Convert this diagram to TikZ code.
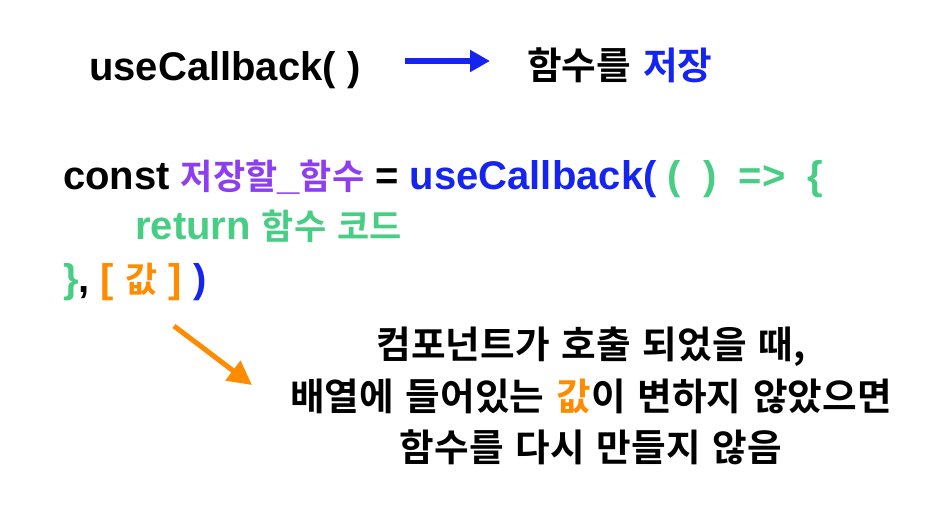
\documentclass[tikz,border=0pt]{standalone}
\usepackage{fontspec}
\setmainfont{Liberation Sans}
\newfontfamily\hangul{Noto Sans CJK KR}[Scale=0.875,WordSpace=1.4,BoldFont={Noto Sans CJK KR Bold}]
\usetikzlibrary{arrows.meta,positioning}
\definecolor{hookblue}{RGB}{22,36,240}
\definecolor{namepurple}{RGB}{140,62,240}
\definecolor{bodygreen}{RGB}{72,206,132}
\definecolor{deporange}{RGB}{255,140,0}

\begin{document}
\begin{tikzpicture}[x=1pt,y=-1pt,
  code/.style={inner sep=0pt,anchor=base west,font=\fontsize{40}{48}\selectfont\bfseries},
  note/.style={inner sep=0pt,anchor=base,font=\fontsize{43}{50}\selectfont\bfseries\hangul},
  fat/.style={line width=5pt,-{Triangle[length=20pt,width=21pt]}}]
  \fill[white] (0,0) rectangle (936,527);
  \useasboundingbox (0,0) rectangle (936,527);
  \node[code] (hook)  at (89,80)  {useCallback( )};
  \node[note,anchor=base west] (store) at (527,79) {함수를 {\color{hookblue}저장}};
  \node[code] (line1) at (63,189) {const {\color{namepurple}{\hangul 저장할}\_{\hangul 함수}} = {\color{hookblue}useCallback(}~{\color{bodygreen}(~~)~~=>~~\{}};
  \node[code] (line2) at (135,239) {\color{bodygreen}return {\hangul 함수 코드}};
  \node[code] (line3) at (63,292) {{\color{bodygreen}\}},~{\color{deporange}[~{\hangul 값}~]}~{\color{hookblue})}};
  \node[note] (why1)  at (591,358) {컴포넌트가 호출 되었을 때,};
  \node[note] (why2)  at (591,410) {배열에 들어있는 {\color{deporange}값}이 변하지 않았으면};
  \node[note] (why3)  at (591,461) {함수를 다시 만들지 않음};
  \coordinate (b0) at (405,61);
  \coordinate (b1) at (490,61);
  \coordinate (o0) at (174,326);
  \coordinate (o1) at (252,385);
  \path[fat] (b0) edge[hookblue] (b1)
             (o0) edge[deporange,-{Triangle[length=24pt,width=24pt]}] (o1);
\end{tikzpicture}
\end{document}
